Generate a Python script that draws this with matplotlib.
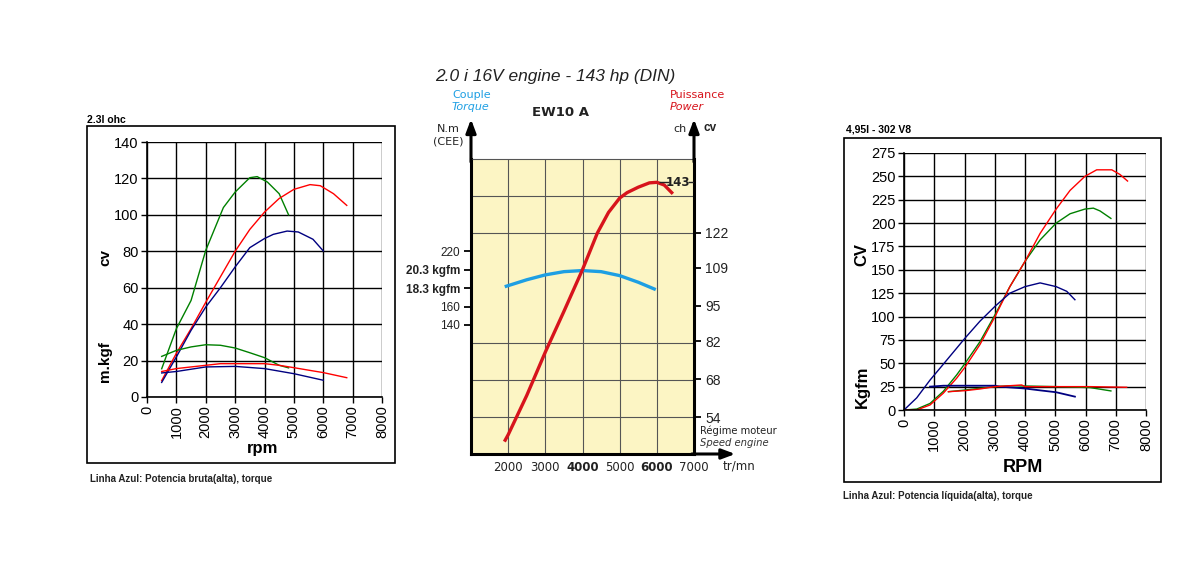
import matplotlib
matplotlib.use("Agg")
import matplotlib.pyplot as plt
from matplotlib.patches import Rectangle

W, H = 1200, 566

# ---- panel 1 : 2.3l ohc ----
p1_ticks_x = [0, 1000, 2000, 3000, 4000, 5000, 6000, 7000, 8000]
p1_ticks_y = [0, 20, 40, 60, 80, 100, 120, 140]
p1_green_cv_rpm = [500, 1000, 1500, 2000, 2600, 3000, 3500, 3750, 4100, 4500, 4820]
p1_green_cv = [15.5, 37.5, 53, 80.5, 104, 112.5, 120.4, 121, 118, 111.6, 100]
p1_red_cv_rpm = [500, 1000, 1500, 2000, 2500, 3000, 3500, 4000, 4500, 5000, 5550, 5900, 6350, 6800]
p1_red_cv = [9, 24, 37.5, 52, 66, 80, 92, 101.5, 109, 114, 116.6, 116, 111.6, 105.2]
p1_blue_cv_rpm = [500, 1000, 1500, 2000, 2500, 3000, 3500, 4000, 4300, 4770, 5150, 5650, 6000]
p1_blue_cv = [8, 22, 36.6, 49.4, 60, 71.4, 82, 87, 89.3, 91.1, 90.6, 86.6, 80.2]
p1_green_t_rpm = [500, 1000, 1500, 2000, 2500, 3000, 3500, 4000, 4500, 4820]
p1_green_t = [22.3, 25.6, 27.5, 28.7, 28.4, 26.9, 24.3, 21.6, 17.4, 16]
p1_red_t_rpm = [500, 1000, 2000, 2500, 3000, 4000, 4500, 5000, 5550, 6000, 6800]
p1_red_t = [14, 15.6, 17.4, 18.3, 18.3, 18.3, 17.4, 16.1, 14.6, 13.4, 10.6]
p1_blue_t_rpm = [500, 1000, 2000, 3000, 4000, 5000, 6000]
p1_blue_t = [13.2, 14, 16.5, 16.8, 15.6, 12.8, 9.2]

# ---- panel 2 : EW10 A ----
p2_ticks_x = [2000, 3000, 4000, 5000, 6000, 7000]
p2_grid_nm = [40, 80, 120, 160, 200, 240, 280]
p2_nm_ticks = [140, 160, 180, 200, 220]
p2_nm_labels = ["140", "160", "18.3 kgfm", "20.3 kgfm", "220"]
p2_ch_ticks = [54, 68, 82, 95, 109, 122]
p2_power_rpm = [1920, 2000, 2500, 3000, 3500, 4000, 4400, 4700, 5000, 5200, 5500, 5800, 6000, 6200, 6400]
p2_power_ch = [45.5, 47.5, 62, 78, 93, 108.4, 121.9, 129.5, 134.8, 136.8, 138.8, 140.4, 140.6, 139.6, 136.8]
p2_torque_rpm = [1950, 2500, 3000, 3500, 4000, 4500, 5000, 5500, 5930]
p2_torque_nm = [182, 189, 194.3, 197.8, 199, 197.8, 193.5, 186.3, 179]

# ---- panel 3 : 4,95l 302 V8 ----
p3_ticks_y = [0, 25, 50, 75, 100, 125, 150, 175, 200, 225, 250, 275]
p3_red_cv_rpm = [0, 420, 860, 1300, 1740, 2020, 2510, 3010, 3500, 4000, 4500, 5030, 5490, 5980, 6370, 6870, 7140, 7390]
p3_red_cv = [0, 0, 5.4, 18, 34, 46, 70, 100, 132, 159, 189, 215, 235, 250, 257, 257, 252, 245]
p3_green_cv_rpm = [0, 420, 860, 1300, 1740, 2020, 2510, 3010, 3500, 4000, 4500, 5030, 5490, 5980, 6260, 6480, 6840]
p3_green_cv = [0, 1, 7, 20, 37.5, 50, 73, 102, 132, 159, 182, 200, 210, 215, 216, 213, 205]
p3_blue_cv_rpm = [0, 420, 860, 1300, 2020, 2510, 3010, 3500, 4000, 4500, 5030, 5380, 5650]
p3_blue_cv = [0, 13, 32, 49, 77, 95, 111, 125, 132, 136, 132, 127, 118]
p3_blue_t_rpm = [860, 1300, 3010, 3170, 4000, 4500, 5030, 5650]
p3_blue_t = [25, 26, 26, 25, 23, 21, 19, 14.3]
p3_red_t_rpm = [1470, 2020, 2510, 3010, 3500, 3890, 4000, 5050, 6150, 7360]
p3_red_t = [19.6, 20.7, 22.5, 25, 26, 26.8, 25, 25, 25, 24.3]
p3_green_t_rpm = [1470, 2020, 2510, 3010, 3500, 4000, 5050, 6150, 6840]
p3_green_t = [19.6, 21.4, 23.2, 25, 26, 25.7, 25, 24, 20.4]

GREEN, RED, NAVY = "#008000", "#ff0000", "#000080"
P2_RED, P2_BLUE = "#d7141c", "#1e9fe3"
NARROW = ["Liberation Sans Narrow", "Liberation Sans"]

fig = plt.figure(figsize=(12, 5.66), dpi=100)


def px_axes(x0, y0, x1, y1):
    return fig.add_axes([x0 / W, 1 - y1 / H, (x1 - x0) / W, (y1 - y0) / H])


def ftext(x, y, s, **kw):
    fig.text(x / W, 1 - y / H, s, **kw)


def box(x0, y0, x1, y1):
    fig.add_artist(Rectangle((x0 / W, 1 - y1 / H), (x1 - x0) / W, (y1 - y0) / H,
                             transform=fig.transFigure, fill=False, ec="black", lw=1.2))


def excel_axes(ax, xt, yt):
    ax.set_xlim(0, 8000)
    ax.set_ylim(yt[0], yt[-1])
    ax.set_xticks(xt)
    ax.set_yticks(yt)
    ax.set_xticklabels([str(v) for v in xt], rotation=90, fontsize=10.5, family="Liberation Sans")
    ax.set_yticklabels([str(v) for v in yt], fontsize=10.5, family="Liberation Sans")
    ax.grid(True, color="black", lw=1)
    for s in ["top", "right"]:
        ax.spines[s].set_visible(False)
    for s in ["left", "bottom"]:
        ax.spines[s].set_linewidth(1.2)
    ax.tick_params(length=4, width=1, pad=2)
    ax.set_axisbelow(True)


# panel 1
box(87, 126, 395, 463)
ax1 = px_axes(147, 142, 382, 397)
excel_axes(ax1, p1_ticks_x, p1_ticks_y)
ax1.plot(p1_green_cv_rpm, p1_green_cv, color=GREEN, lw=1)
ax1.plot(p1_red_cv_rpm, p1_red_cv, color=RED, lw=1)
ax1.plot(p1_blue_cv_rpm, p1_blue_cv, color=NAVY, lw=1)
ax1.plot(p1_green_t_rpm, p1_green_t, color=GREEN, lw=1)
ax1.plot(p1_red_t_rpm, p1_red_t, color=RED, lw=1)
ax1.plot(p1_blue_t_rpm, p1_blue_t, color=NAVY, lw=1)
ftext(105, 258, "cv", rotation=90, ha="center", va="center", fontsize=11, fontweight="bold", family="Liberation Sans")
ftext(105, 362, "m.kgf", rotation=90, ha="center", va="center", fontsize=11, fontweight="bold", family="Liberation Sans")
ftext(263, 449, "rpm", ha="center", va="center", fontsize=12, fontweight="bold", family="Liberation Sans")
ftext(87, 120, "2.3l ohc", ha="left", va="center", fontsize=7.5, fontweight="bold", family=NARROW)
ftext(90, 479, "Linha Azul: Potencia bruta(alta), torque", ha="left", va="center", fontsize=7,
      fontweight="bold", family=NARROW, color="#222222")

# panel 2
ax2 = px_axes(471, 159, 694, 454)
ax2.set_facecolor("#fcf5c4")
ax2.set_xlim(1000, 7000)
ax2.set_ylim(0, 320)
ax2.set_xticks(p2_ticks_x)
ax2.set_xticklabels([str(v) for v in p2_ticks_x], fontsize=8.5, family="DejaVu Sans", color="#222222")
for lab, v in zip(ax2.get_xticklabels(), p2_ticks_x):
    if v in (4000, 6000):
        lab.set_fontweight("bold")
ax2.set_yticks(p2_grid_nm, minor=True)
ax2.set_yticks(p2_nm_ticks)
ax2.set_yticklabels(p2_nm_labels, fontsize=8.5, family=NARROW, color="#222222")
for lab in ax2.get_yticklabels():
    if "kgfm" in lab.get_text():
        lab.set_fontweight("bold")
ax2.tick_params(axis="x", length=0, pad=5)
ax2.tick_params(axis="y", which="major", length=5, width=1.3, direction="out", pad=3)
ax2.tick_params(axis="y", which="minor", length=0)
ax2.grid(True, axis="x", color="#555555", lw=0.8)
ax2.grid(True, axis="y", which="minor", color="#555555", lw=0.8)
for s in ["left", "bottom", "right"]:
    ax2.spines[s].set_linewidth(2.2)
ax2.spines["top"].set_color("#555555")
ax2.spines["top"].set_linewidth(0.8)
ax2.set_axisbelow(True)
ax2.plot(p2_torque_rpm, p2_torque_nm, color=P2_BLUE, lw=2.4)

ax2r = ax2.twinx()
ax2r.set_ylim(40.4, 149.2)
ax2r.set_yticks(p2_ch_ticks)
ax2r.set_yticklabels([str(v) for v in p2_ch_ticks], fontsize=10, family=NARROW, color="#222222")
ax2r.tick_params(axis="y", length=5, width=1.3, direction="out", pad=3)
for s in ["left", "bottom", "right", "top"]:
    ax2r.spines[s].set_visible(False)
ax2r.plot(p2_power_rpm, p2_power_ch, color=P2_RED, lw=2.4)
peak = max(p2_power_ch)
ax2r.hlines(peak, 6050, 6320, color="#222222", lw=1)
ax2r.hlines(peak, 6830, 7000, color="#222222", lw=1)
ax2r.text(6575, peak, "143", ha="center", va="center", fontsize=8.5, fontweight="bold", color="#222222")

arrow = dict(arrowstyle="-|>,head_length=0.8,head_width=0.3", lw=2.2, color="black", shrinkA=0, shrinkB=0)
ax2.annotate("", xy=(0, 1.135), xytext=(0, 0.99), xycoords="axes fraction", arrowprops=arrow)
ax2.annotate("", xy=(1, 1.135), xytext=(1, 0.99), xycoords="axes fraction", arrowprops=arrow)
ax2.annotate("", xy=(1.185, 0), xytext=(0.99, 0), xycoords="axes fraction", arrowprops=arrow)

ftext(555, 76, "2.0 i 16V engine - 143 hp (DIN)", ha="center", va="center", fontsize=12.5,
      style="italic", family="Liberation Sans", color="#222222")
ftext(452, 95, "Couple", ha="left", va="center", fontsize=8, color=P2_BLUE)
ftext(452, 107, "Torque", ha="left", va="center", fontsize=8, style="italic", color=P2_BLUE)
ftext(670, 95, "Puissance", ha="left", va="center", fontsize=8, color=P2_RED)
ftext(670, 107, "Power", ha="left", va="center", fontsize=8, style="italic", color=P2_RED)
ftext(561, 112, "EW10 A", ha="center", va="center", fontsize=9.5, fontweight="bold", color="#222222")
ftext(448, 129, "N.m", ha="center", va="center", fontsize=8, color="#222222")
ftext(448, 141, "(CEE)", ha="center", va="center", fontsize=8, color="#222222")
ftext(680, 129, "ch", ha="center", va="center", fontsize=8, color="#222222")
ftext(710, 128, "cv", ha="center", va="center", fontsize=8.5, fontweight="bold", family=NARROW, color="#222222")
ftext(700, 431, "Régime moteur", ha="left", va="center", fontsize=7.2, color="#222222")
ftext(700, 443, "Speed engine", ha="left", va="center", fontsize=7.2, style="italic", color="#333333")
ftext(723, 466, "tr/mn", ha="left", va="center", fontsize=8.5, color="#222222")

# panel 3
box(844, 138, 1161, 482)
ax3 = px_axes(904, 153, 1146, 410)
excel_axes(ax3, p1_ticks_x, p3_ticks_y)
ax3.plot(p3_green_cv_rpm, p3_green_cv, color=GREEN, lw=1)
ax3.plot(p3_red_cv_rpm, p3_red_cv, color=RED, lw=1)
ax3.plot(p3_blue_cv_rpm, p3_blue_cv, color=NAVY, lw=1)
ax3.plot(p3_green_t_rpm, p3_green_t, color=GREEN, lw=1)
ax3.plot(p3_blue_t_rpm, p3_blue_t, color=NAVY, lw=1.3)
ax3.plot(p3_red_t_rpm, p3_red_t, color=RED, lw=1)
ftext(862, 255, "CV", rotation=90, ha="center", va="center", fontsize=12, fontweight="bold", family="Liberation Sans")
ftext(862, 387, "Kgfm", rotation=90, ha="center", va="center", fontsize=12, fontweight="bold", family="Liberation Sans")
ftext(1023, 468, "RPM", ha="center", va="center", fontsize=13, fontweight="bold", family="Liberation Sans")
ftext(846, 129, "4,95l - 302 V8", ha="left", va="center", fontsize=7.5, fontweight="bold", family=NARROW)
ftext(843, 496, "Linha Azul: Potencia líquida(alta), torque", ha="left", va="center", fontsize=7,
      fontweight="bold", family=NARROW, color="#222222")

fig.savefig("out.png", dpi=100)
